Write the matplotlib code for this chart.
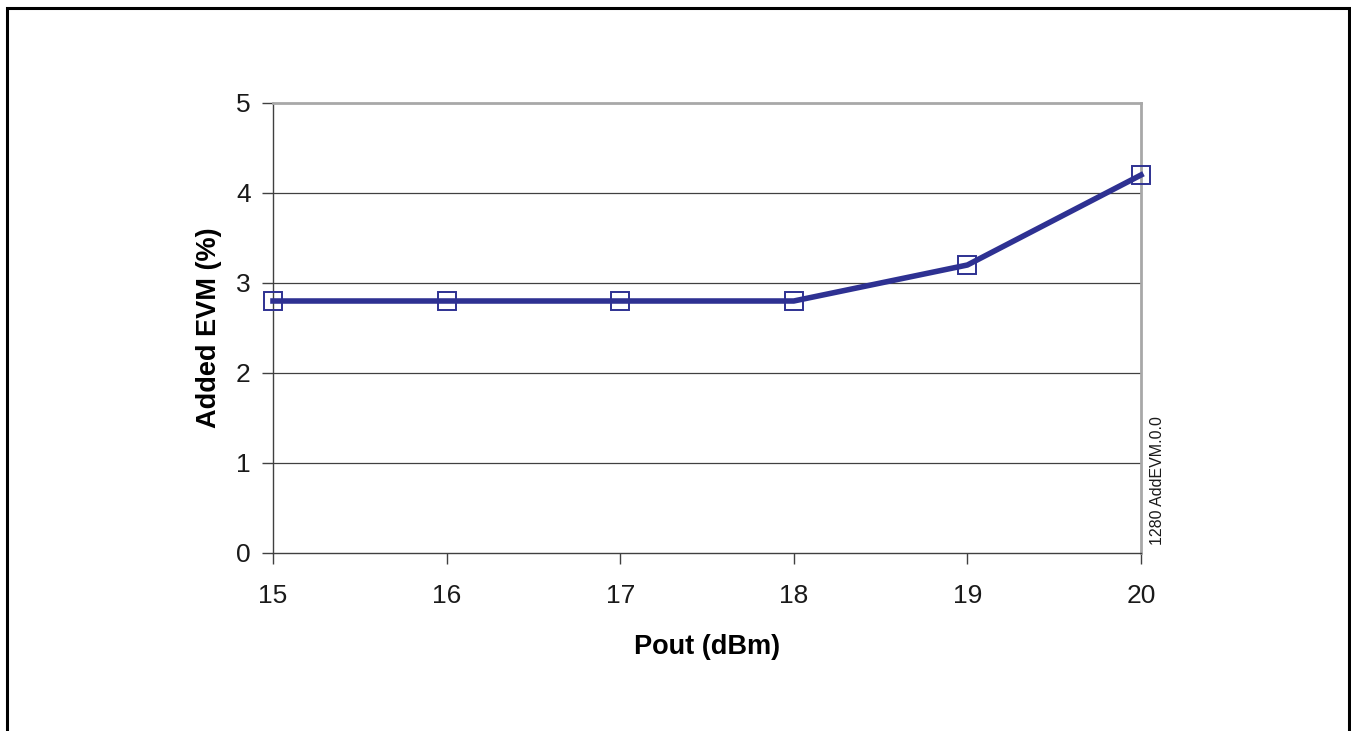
import matplotlib
matplotlib.use("Agg")
import matplotlib.pyplot as plt
from matplotlib.patches import Rectangle

pout = [15, 16, 17, 18, 19, 20]
evm = [2.8, 2.8, 2.8, 2.8, 3.2, 4.2]
yticks = [0, 1, 2, 3, 4, 5]

plt.rcParams['font.family'] = ['Liberation Sans', 'DejaVu Sans']

W, H = 1351, 731
fig = plt.figure(figsize=(W / 100, H / 100), dpi=100)

# outer frame
fig.patches.append(Rectangle((7 / W, -0.05), (1349 - 7) / W, (H - 8) / H + 0.05,
                             transform=fig.transFigure, fill=False,
                             edgecolor='black', linewidth=2.2))

ax = fig.add_axes([273 / W, 1 - 553 / H, (1141 - 273) / W, (553 - 103) / H])
ax.set_xlim(15, 20)
ax.set_ylim(0, 5)
ax.set_xticks(pout)
ax.set_yticks(yticks)

for y in yticks[1:-1]:
    ax.axhline(y, color='#404040', linewidth=0.9, zorder=1)

ax.plot(pout, evm, color='#2e3192', linewidth=4.0, zorder=3, clip_on=False)
ax.plot(pout, evm, linestyle='none', marker='s', markersize=13,
        markerfacecolor='none', markeredgecolor='#2e3192', markeredgewidth=1.4,
        zorder=4, clip_on=False)

for s in ['left', 'bottom']:
    ax.spines[s].set_color('#404040')
    ax.spines[s].set_linewidth(1.0)
for s in ['top', 'right']:
    ax.spines[s].set_color('#a8a8a8')
    ax.spines[s].set_linewidth(2.0)

ax.tick_params(axis='both', direction='out', length=8, width=1.0, color='#404040',
               labelsize=19, labelcolor='#1a1a1a')
ax.tick_params(axis='x', pad=14)
ax.tick_params(axis='y', pad=8)

ax.set_xlabel('Pout (dBm)', fontsize=19.5, fontweight='bold', labelpad=19)
ax.set_ylabel('Added EVM (%)', fontsize=19.5, fontweight='bold', labelpad=10)

fig.text(1158 / W, 1 - 545 / H, '1280 AddEVM.0.0', rotation=90, fontsize=11.5,
         ha='center', va='bottom', color='#1a1a1a')

fig.savefig('out.png', dpi=100)
